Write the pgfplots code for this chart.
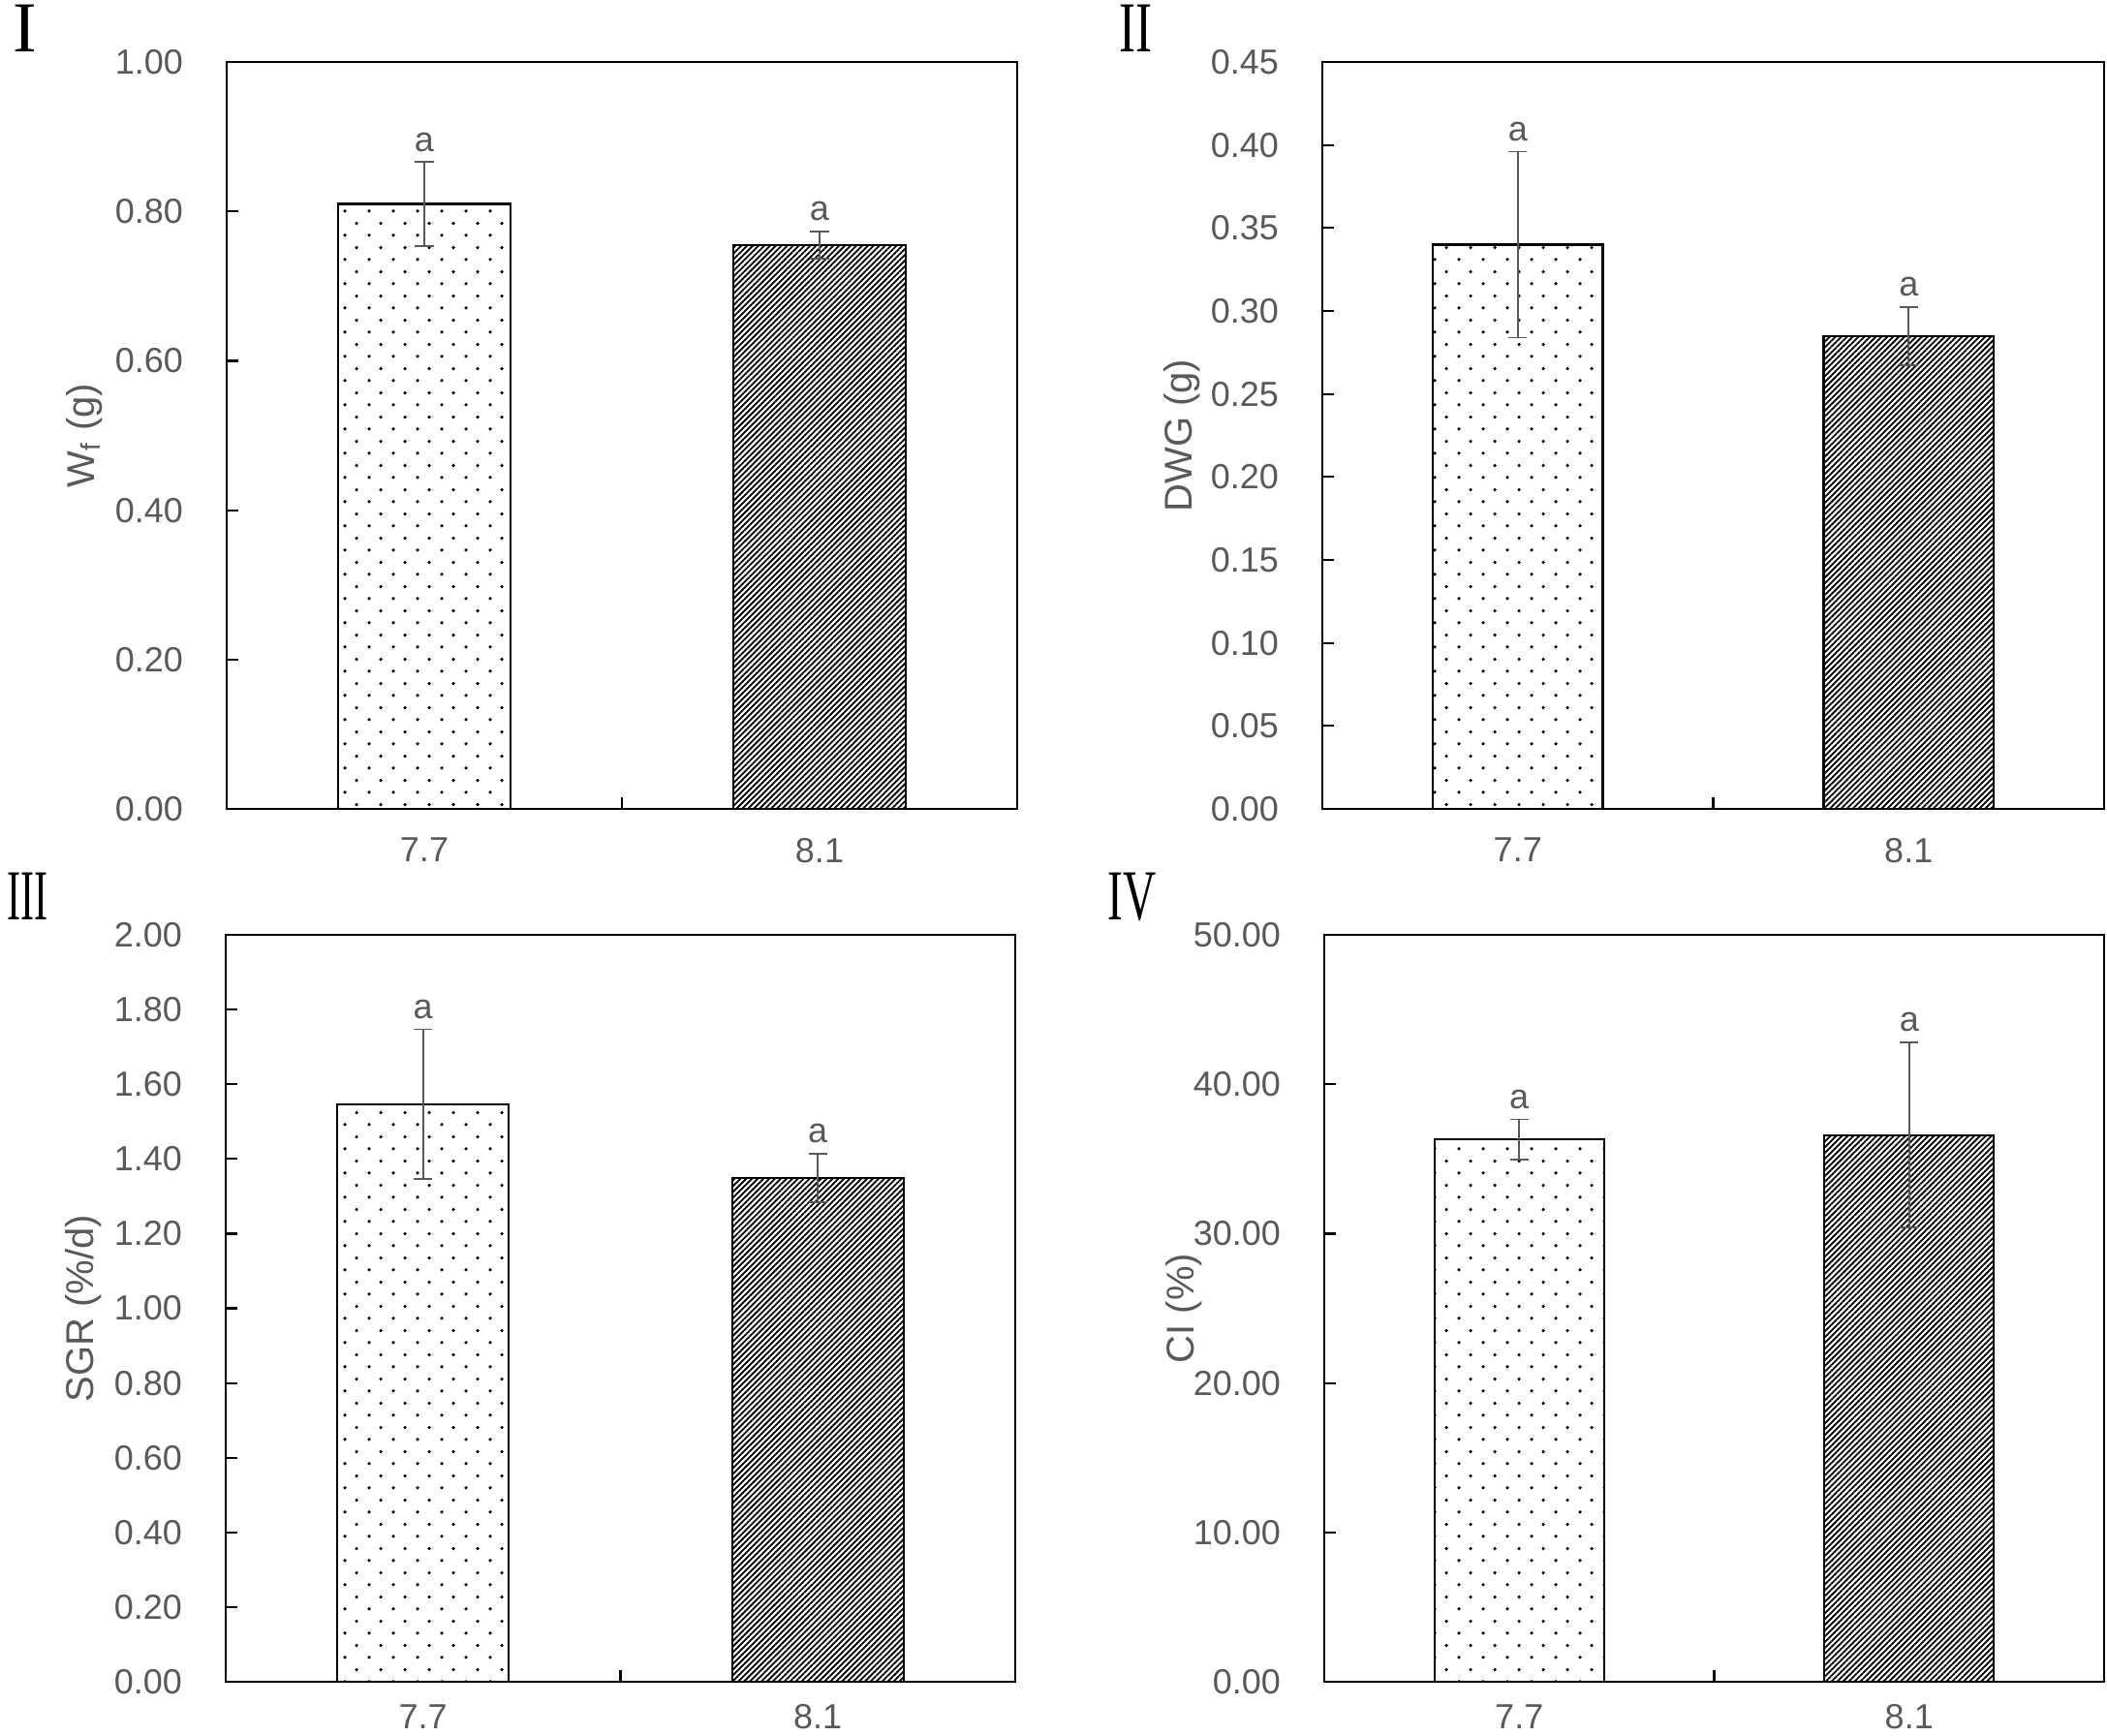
\documentclass[border=0pt]{standalone}
\usepackage{pgfplots}
\pgfplotsset{compat=1.18}
\usepackage{fontspec}
\setmainfont{Liberation Sans}
\newfontfamily\romanfont{Liberation Serif}
\usepackage{graphicx}
\usetikzlibrary{patterns,patterns.meta}
\definecolor{txtgray}{RGB}{89,89,89}
\pgfdeclarepatternformonly{stagdots}{\pgfqpoint{0pt}{0pt}}{\pgfqpoint{6.25pt}{6.2pt}}{\pgfqpoint{6.25pt}{6.2pt}}{%
  \pgfpathcircle{\pgfqpoint{1.5625pt}{1.55pt}}{0.47pt}%
  \pgfpathcircle{\pgfqpoint{4.6875pt}{4.65pt}}{0.47pt}%
  \pgfusepath{fill}}
\pgfplotsset{
  myax/.style={
    scale only axis, height=192.75pt,
    ybar, bar width=0.435, bar shift=0pt,
    xmin=-0.5, xmax=1.5, xtick={-0.5,0.5,1.5}, x tick label as interval,
    xticklabels={7.7,8.1},
    xtick pos=left, ytick pos=left, major tick length=3pt,
    ymin=0,
    axis line style={line width=0.55pt},
    tick style={black, line width=0.55pt},
    tick label style={font=\fontsize{9}{10}\selectfont, text=txtgray},
    /pgf/number format/assume math mode=true,
    yticklabel style={/pgf/number format/fixed, /pgf/number format/fixed zerofill,
      /pgf/number format/precision=2, xshift=-7.75pt},
    xticklabel style={yshift=-4pt},
    every axis y label/.style={at={(axis description cs:-0.18,0.5)}, rotate=90, anchor=center,
      font=\fontsize{10}{12}\selectfont, text=txtgray},
    clip=false,
    xtick align=inside, ytick align=inside,
  },
  errs/.style={error bars/.cd, y dir=both, y explicit,
    error bar style={line width=0.45pt, color=txtgray},
    error mark options={rotate=90, mark size=2.4pt, line width=0.45pt, color=txtgray}},
  dotbar/.style={draw=black, line width=0.55pt, pattern=stagdots, pattern color=black, errs},
  hatchbar/.style={draw=black, line width=0.55pt,
    pattern={Lines[angle=45, distance=1.05pt, line width=0.45pt]}, pattern color=black, errs},
}
\tikzset{lbl/.style={text=txtgray, font=\fontsize{9}{10}\selectfont, anchor=south, inner sep=2.5pt},
  rn/.style={anchor=base west, inner sep=0pt, font=\romanfont\fontsize{18.5}{20}\selectfont}}
\begin{document}
\begin{tikzpicture}
\useasboundingbox (0,0) rectangle (543.75pt,-447.75pt);
\node[rn] at (3.25pt,-13.25pt) {I};
\node[rn] at (288.75pt,-13.25pt) {\scalebox{0.69}[1]{II}};
\node[rn] at (1.75pt,-237.25pt) {\scalebox{0.57}[1]{III}};
\node[rn] at (285.75pt,-237.25pt) {\scalebox{0.64}[1]{IV}};

% Panel I
\begin{axis}[myax, at={(58.5pt,-208.75pt)}, anchor=south west, width=204pt,
  ymax=1, ytick={0,0.2,...,1.0}, ylabel={W\textsubscript{f} (g)}]
\addplot[dotbar] coordinates {(0,0.810) +- (0,0.056)};
\addplot[hatchbar] coordinates {(1,0.755) +- (0,0.018)};
\node[lbl] at (axis cs:0,0.866) {a};
\node[lbl] at (axis cs:1,0.773) {a};
\end{axis}

% Panel II
\begin{axis}[myax, at={(341.25pt,-208.75pt)}, anchor=south west, width=201.75pt,
  ymax=0.45, ytick={0,0.05,...,0.46}, ylabel={DWG (g)}]
\addplot[dotbar] coordinates {(0,0.340) +- (0,0.056)};
\addplot[hatchbar] coordinates {(1,0.285) +- (0,0.0175)};
\node[lbl] at (axis cs:0,0.396) {a};
\node[lbl] at (axis cs:1,0.3025) {a};
\end{axis}

% Panel III
\begin{axis}[myax, at={(58.25pt,-434pt)}, anchor=south west, width=203.75pt,
  ymax=2, ytick={0,0.2,...,2.01}, ylabel={SGR (\%/d)}, xticklabel style={yshift=1.6pt}]
\addplot[dotbar] coordinates {(0,1.547) +- (0,0.200)};
\addplot[hatchbar] coordinates {(1,1.349) +- (0,0.065)};
\node[lbl] at (axis cs:0,1.747) {a};
\node[lbl] at (axis cs:1,1.414) {a};
\end{axis}

% Panel IV
\begin{axis}[myax, at={(341.75pt,-434pt)}, anchor=south west, width=201.25pt,
  ymax=50, ytick={0,10,...,50}, ylabel={CI (\%)}, xticklabel style={yshift=1.6pt}]
\addplot[dotbar] coordinates {(0,36.3) +- (0,1.35)};
\addplot[hatchbar] coordinates {(1,36.6) +- (0,6.2)};
\node[lbl] at (axis cs:0,37.65) {a};
\node[lbl] at (axis cs:1,42.8) {a};
\end{axis}
\end{tikzpicture}
\end{document}
